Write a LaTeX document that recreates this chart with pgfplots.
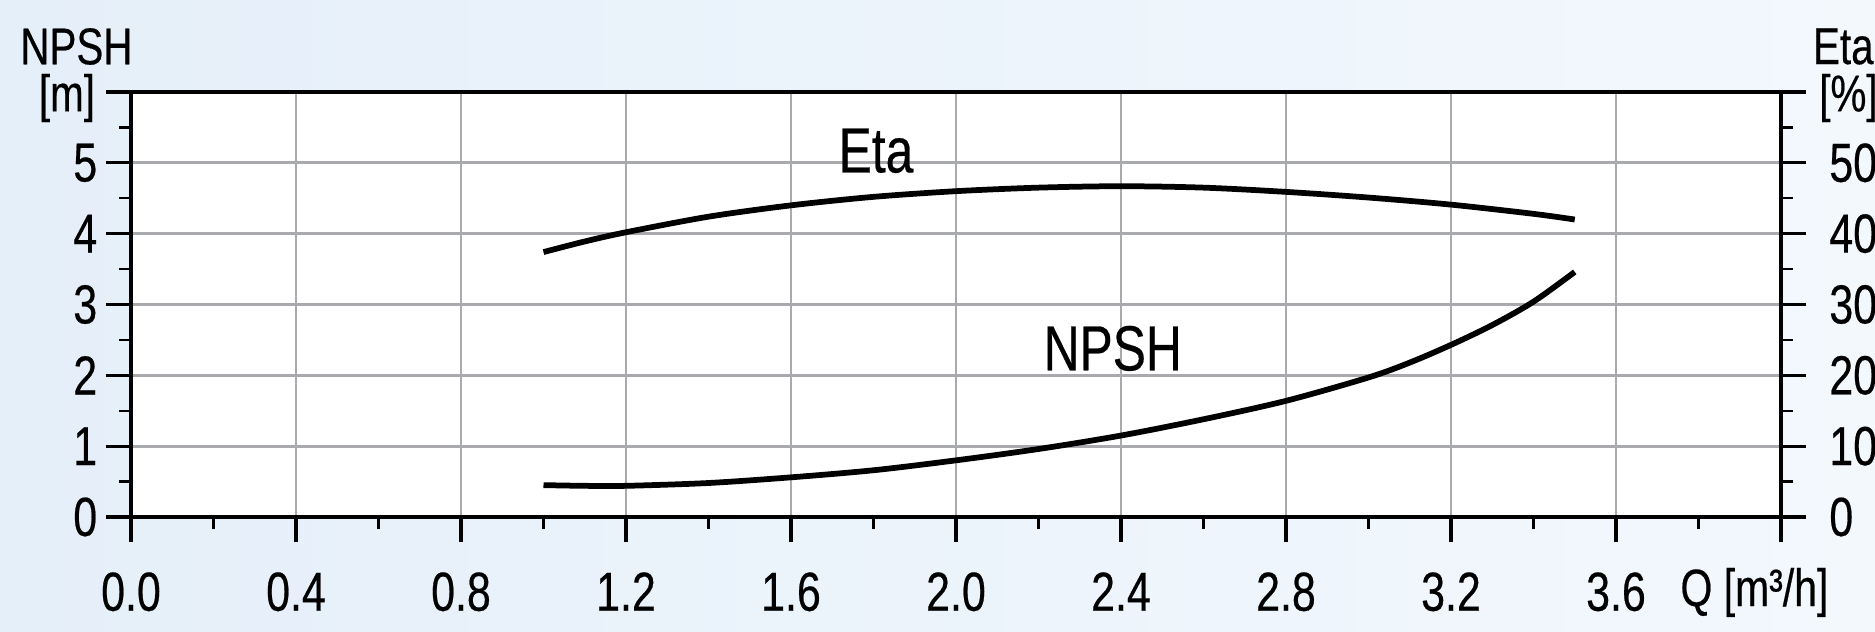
\documentclass[border=0pt]{standalone}
\usepackage{fontspec}
\setmainfont{Liberation Sans}[FakeStretch=0.78, FakeBold=0.4]
\usepackage{pgfplots}
\pgfplotsset{compat=1.18}
\definecolor{bgA}{RGB}{229,239,249}
\definecolor{bgB}{RGB}{243,248,253}
\definecolor{gridc}{RGB}{168,170,174}

\pgfplotstableread{
Q NPSH
1.0 0.45
1.1 0.44
1.2 0.44
1.4 0.48
1.6 0.56
1.8 0.66
2.0 0.80
2.2 0.96
2.4 1.15
2.6 1.38
2.8 1.64
3.0 1.97
3.1 2.18
3.2 2.43
3.3 2.71
3.4 3.04
3.5 3.46
}\npshdata

\pgfplotstableread{
Q Eta
1.0 37.4
1.1 38.9
1.2 40.2
1.4 42.4
1.6 44.0
1.8 45.2
2.0 46.0
2.2 46.5
2.4 46.7
2.6 46.5
2.8 45.9
3.0 45.1
3.2 44.1
3.4 42.8
3.5 42.0
}\etadata

\begin{document}
\begin{tikzpicture}[x=1pt,y=1pt]
\useasboundingbox (0,0) rectangle (750,252.4);
\shade[left color=bgA, right color=bgB] (0,0) rectangle (750,252.4);
\pgfplotsset{
  common/.style={
    at={(52.4pt,45.6pt)}, anchor=south west,
    scale only axis, width=660pt, height=170pt,
    xmin=0, xmax=4,
    tick align=outside,
    major tick length=10pt, minor tick length=4.8pt,
    every major tick/.append style={black, line width=1.3pt},
    every minor tick/.append style={black, line width=0.9pt},
    ticklabel style={font=\fontsize{22}{24}\selectfont},
  }
}
\begin{axis}[common,
  ymin=0, ymax=6,
  axis background/.style={fill=white},
  xtick={0,0.4,0.8,1.2,1.6,2.0,2.4,2.8,3.2,3.6,4.0},
  xticklabels={0.0,0.4,0.8,1.2,1.6,2.0,2.4,2.8,3.2,3.6,{}},
  ytick={0,1,2,3,4,5,6},
  yticklabels={0,1,2,3,4,5,{}},
  minor x tick num=1, minor y tick num=1,
  xtick pos=bottom, ytick pos=left,
  xticklabel style={yshift=-8.6pt},
  yticklabel style={xshift=0pt},
  grid=major,
  major x grid style={gridc, line width=0.7pt},
  major y grid style={gridc, line width=1.1pt},
  axis line style={line width=1.5pt},
]
\addplot[black, line width=2.3pt, smooth] table[x=Q, y=NPSH] {\npshdata};
\node[font=\fontsize{25.5}{27}\selectfont] at (axis cs:1.806,5.17) {Eta};
\node[font=\fontsize{25.5}{27}\selectfont] at (axis cs:2.38,2.38) {NPSH};
\end{axis}
\begin{axis}[common,
  ymin=0, ymax=60,
  axis x line=none, axis y line*=right,
  ytick={0,10,20,30,40,50,60},
  yticklabels={0,10,20,30,40,50,{}},
  minor y tick num=1,
  yticklabel style={xshift=5.8pt},
  axis line style={-, line width=1.5pt},
]
\addplot[black, line width=2.3pt, smooth] table[x=Q, y=Eta] {\etadata};
\end{axis}
\node[anchor=east, inner sep=0pt, font=\fontsize{20.7}{22}\selectfont] at (53.2,233.8) {NPSH};
\node[anchor=east, inner sep=0pt, font=\fontsize{20.7}{22}\selectfont] at (38.2,213.2) {[m]};
\node[anchor=west, inner sep=0pt, font=\fontsize{20.7}{22}\selectfont] at (725,233.8) {Eta};
\node[anchor=west, inner sep=0pt, font=\fontsize{20.7}{22}\selectfont] at (727.5,213.2) {[\%]};
\node[anchor=base west, inner sep=0pt] at (672,10) {\fontsize{21}{22}\selectfont Q [m³/h]};
\end{tikzpicture}
\end{document}
